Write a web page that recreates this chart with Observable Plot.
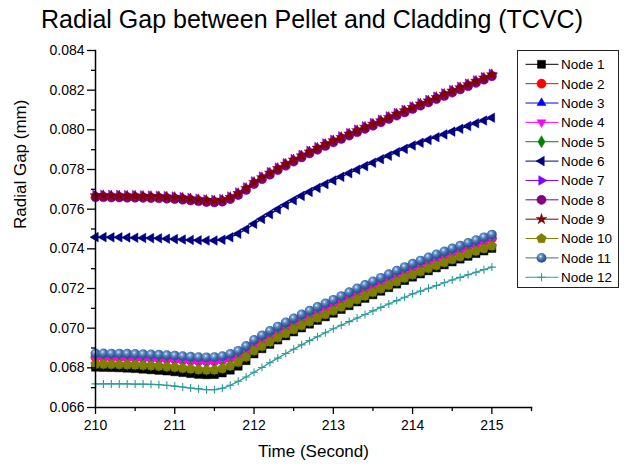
<!DOCTYPE html>
<html>
<head>
<meta charset="utf-8">
<script src="https://cdn.jsdelivr.net/npm/d3@7"></script>
<script src="https://cdn.jsdelivr.net/npm/@observablehq/plot@0.6"></script>
<style>
  body { margin: 0; background: #fff; font-family: "Liberation Sans", Arial, sans-serif; }
  #titulo { width: 624px; height: 38px; line-height: 38px; text-align: center; font-size: 25px; color: #000; }
</style>
</head>
<body>
<div id="titulo">Radial Gap between Pellet and Cladding (TCVC)</div>
<div id="chart"></div>
<script>
/* Datos (mm), un punto cada 0.1 s */
const tiempo = [210.0,210.1,210.2,210.3,210.4,210.5,210.6,210.7,210.8,210.9,211.0,
  211.1,211.2,211.3,211.4,211.5,211.6,211.7,211.8,211.9,212.0,
  212.1,212.2,212.3,212.4,212.5,212.6,212.7,212.8,212.9,213.0,
  213.1,213.2,213.3,213.4,213.5,213.6,213.7,213.8,213.9,214.0,
  214.1,214.2,214.3,214.4,214.5,214.6,214.7,214.8,214.9,215.0]

const node1 = [0.06803,0.06802,0.06801,0.06800,0.06798,0.06796,0.06793,0.06790,0.06787,0.06784,0.06780,
  0.06776,0.06771,0.06767,0.06765,0.06766,0.06774,0.06788,0.06808,0.06836,0.06870,
  0.06896,0.06918,0.06940,0.06961,0.06981,0.07001,0.07020,0.07039,0.07057,0.07075,
  0.07094,0.07113,0.07132,0.07150,0.07168,0.07186,0.07204,0.07222,0.07240,0.07257,
  0.07273,0.07289,0.07304,0.07319,0.07334,0.07348,0.07362,0.07376,0.07389,0.07402]
const node2 = [0.06853,0.06853,0.06852,0.06852,0.06851,0.06850,0.06849,0.06848,0.06846,0.06844,0.06842,
  0.06839,0.06836,0.06834,0.06833,0.06834,0.06839,0.06850,0.06866,0.06890,0.06921,
  0.06944,0.06966,0.06988,0.07009,0.07029,0.07049,0.07068,0.07087,0.07105,0.07123,
  0.07142,0.07161,0.07180,0.07198,0.07216,0.07234,0.07252,0.07270,0.07288,0.07305,
  0.07321,0.07337,0.07352,0.07367,0.07382,0.07396,0.07410,0.07424,0.07438,0.07452]
const node3 = [0.06865,0.06865,0.06864,0.06864,0.06863,0.06862,0.06861,0.06860,0.06858,0.06856,0.06854,
  0.06851,0.06848,0.06846,0.06845,0.06846,0.06851,0.06862,0.06878,0.06902,0.06933,
  0.06956,0.06978,0.07000,0.07021,0.07041,0.07061,0.07080,0.07099,0.07117,0.07135,
  0.07154,0.07173,0.07192,0.07210,0.07228,0.07246,0.07264,0.07282,0.07300,0.07317,
  0.07333,0.07349,0.07364,0.07379,0.07394,0.07408,0.07422,0.07436,0.07450,0.07464]
const node4 = [0.06843,0.06843,0.06842,0.06842,0.06841,0.06840,0.06839,0.06838,0.06836,0.06834,0.06832,
  0.06829,0.06826,0.06824,0.06823,0.06824,0.06829,0.06840,0.06856,0.06880,0.06911,
  0.06934,0.06956,0.06978,0.06999,0.07019,0.07039,0.07058,0.07077,0.07095,0.07113,
  0.07132,0.07151,0.07170,0.07188,0.07206,0.07224,0.07242,0.07260,0.07278,0.07295,
  0.07311,0.07327,0.07342,0.07357,0.07372,0.07386,0.07400,0.07414,0.07428,0.07442]
const node5 = [0.06822,0.06822,0.06821,0.06820,0.06819,0.06818,0.06816,0.06814,0.06812,0.06809,0.06806,
  0.06802,0.06798,0.06794,0.06792,0.06793,0.06800,0.06813,0.06832,0.06858,0.06889,
  0.06912,0.06934,0.06956,0.06977,0.06997,0.07017,0.07036,0.07055,0.07073,0.07091,
  0.07110,0.07129,0.07148,0.07166,0.07184,0.07202,0.07220,0.07238,0.07256,0.07273,
  0.07289,0.07305,0.07320,0.07335,0.07350,0.07364,0.07378,0.07392,0.07405,0.07418]
const node6 = [0.07459,0.07459,0.07458,0.07458,0.07457,0.07456,0.07455,0.07454,0.07453,0.07451,0.07449,
  0.07447,0.07445,0.07443,0.07442,0.07442,0.07446,0.07458,0.07476,0.07499,0.07526,
  0.07551,0.07575,0.07599,0.07622,0.07645,0.07667,0.07687,0.07707,0.07726,0.07745,
  0.07763,0.07781,0.07799,0.07817,0.07834,0.07852,0.07869,0.07887,0.07904,0.07921,
  0.07935,0.07949,0.07963,0.07977,0.07991,0.08005,0.08019,0.08033,0.08047,0.08061]
const node7 = [0.07673,0.07673,0.07672,0.07672,0.07671,0.07671,0.07670,0.07669,0.07668,0.07666,0.07664,
  0.07661,0.07657,0.07653,0.07649,0.07647,0.07651,0.07664,0.07684,0.07710,0.07740,
  0.07764,0.07787,0.07810,0.07832,0.07853,0.07874,0.07894,0.07913,0.07932,0.07950,
  0.07967,0.07984,0.08001,0.08018,0.08034,0.08051,0.08068,0.08085,0.08101,0.08118,
  0.08135,0.08151,0.08168,0.08184,0.08201,0.08217,0.08233,0.08250,0.08266,0.08283]
const node8 = [0.07660,0.07660,0.07659,0.07659,0.07658,0.07658,0.07657,0.07656,0.07655,0.07653,0.07651,
  0.07648,0.07644,0.07640,0.07636,0.07634,0.07638,0.07651,0.07671,0.07697,0.07727,
  0.07751,0.07774,0.07797,0.07819,0.07840,0.07861,0.07881,0.07900,0.07919,0.07937,
  0.07954,0.07971,0.07988,0.08005,0.08021,0.08038,0.08055,0.08072,0.08088,0.08105,
  0.08122,0.08138,0.08155,0.08171,0.08188,0.08204,0.08220,0.08237,0.08253,0.08270]
const node9 = [0.07669,0.07669,0.07668,0.07668,0.07667,0.07667,0.07666,0.07665,0.07664,0.07662,0.07660,
  0.07657,0.07653,0.07649,0.07645,0.07643,0.07647,0.07660,0.07680,0.07706,0.07736,
  0.07760,0.07783,0.07806,0.07828,0.07849,0.07870,0.07890,0.07909,0.07928,0.07946,
  0.07963,0.07980,0.07997,0.08014,0.08030,0.08047,0.08064,0.08081,0.08097,0.08114,
  0.08131,0.08147,0.08164,0.08180,0.08197,0.08213,0.08229,0.08246,0.08262,0.08279]
const node10 = [0.06819,0.06819,0.06818,0.06817,0.06816,0.06815,0.06813,0.06811,0.06809,0.06806,0.06803,
  0.06799,0.06795,0.06791,0.06789,0.06790,0.06797,0.06810,0.06829,0.06855,0.06886,
  0.06909,0.06931,0.06953,0.06974,0.06994,0.07014,0.07033,0.07052,0.07070,0.07088,
  0.07107,0.07126,0.07145,0.07163,0.07181,0.07199,0.07217,0.07235,0.07253,0.07270,
  0.07286,0.07302,0.07317,0.07332,0.07347,0.07361,0.07375,0.07389,0.07402,0.07415]
const node11 = [0.06873,0.06873,0.06872,0.06872,0.06871,0.06870,0.06869,0.06868,0.06866,0.06864,0.06862,
  0.06859,0.06856,0.06854,0.06853,0.06854,0.06859,0.06870,0.06886,0.06910,0.06941,
  0.06964,0.06986,0.07008,0.07029,0.07049,0.07069,0.07088,0.07107,0.07125,0.07143,
  0.07162,0.07181,0.07200,0.07218,0.07236,0.07254,0.07272,0.07290,0.07308,0.07325,
  0.07341,0.07357,0.07372,0.07387,0.07402,0.07416,0.07430,0.07444,0.07458,0.07472]
const node12 = [0.06719,0.06719,0.06719,0.06719,0.06719,0.06718,0.06718,0.06717,0.06715,0.06712,0.06708,
  0.06703,0.06698,0.06694,0.06690,0.06690,0.06697,0.06712,0.06732,0.06754,0.06778,
  0.06802,0.06826,0.06849,0.06872,0.06894,0.06916,0.06937,0.06957,0.06977,0.06997,
  0.07015,0.07033,0.07051,0.07069,0.07087,0.07105,0.07122,0.07139,0.07156,0.07173,
  0.07187,0.07201,0.07215,0.07229,0.07243,0.07256,0.07269,0.07282,0.07295,0.07308]

const nombres = ['Node 1','Node 2','Node 3','Node 4','Node 5','Node 6',
  'Node 7','Node 8','Node 9','Node 10','Node 11','Node 12']
const colores = ['#000000','#ff0000','#0000ff','#ff00ff','#008000','#000080',
  '#8000ff','#800080','#800000','#808000','#3a6aa6','#2b9b9b']

const xTicks = [210, 211, 212, 213, 214, 215]
const xMenores = [210.5, 211.5, 212.5, 213.5, 214.5, 215.5]
const yTicks = [0.066, 0.068, 0.070, 0.072, 0.074, 0.076, 0.078, 0.080, 0.082, 0.084]
const yMenores = [0.067, 0.069, 0.071, 0.073, 0.075, 0.077, 0.079, 0.081, 0.083]

const series = [node1, node2, node3, node4, node5, node6, node7, node8, node9, node10, node11, node12]

/* Simbolos que Plot no trae (triangulos girados, pentagono) */
const tri = (ang) => ({
  draw(ctx, s) {
    const r = Math.sqrt(s / Math.PI) * 1.2
    for (let k = 0; k < 3; k++) {
      const a = ang + k * 2 * Math.PI / 3
      k ? ctx.lineTo(r * Math.cos(a), r * Math.sin(a)) : ctx.moveTo(r * Math.cos(a), r * Math.sin(a))
    }
    ctx.closePath()
  }
})
const pentagono = {
  draw(ctx, s) {
    const r = Math.sqrt(s / Math.PI) * 1.1
    for (let k = 0; k < 5; k++) {
      const a = -Math.PI / 2 + k * 2 * Math.PI / 5
      k ? ctx.lineTo(r * Math.cos(a), r * Math.sin(a)) : ctx.moveTo(r * Math.cos(a), r * Math.sin(a))
    }
    ctx.closePath()
  }
}
const simbolos = [d3.symbolSquare, d3.symbolCircle, tri(-Math.PI / 2), tri(Math.PI / 2), d3.symbolDiamond,
  tri(Math.PI), tri(0), d3.symbolCircle, d3.symbolStar, pentagono, d3.symbolCircle, d3.symbolPlus]
const radios = [4.5, 4.6, 4.3, 4.3, 3.7, 4.6, 4.6, 4.6, 3.4, 4.6, 4.9, 2.7]
const rellenos = colores.map((c, i) => i === 10 ? 'url(#bola)' : i === 11 ? 'none' : c)

const filas = series.map(vals => vals.map((v, j) => ({ t: tiempo[j], v })))

const marcas = []
filas.forEach((f, i) => {
  marcas.push(Plot.line(f, { x: 't', y: 'v', stroke: colores[i], strokeWidth: 1.3 }))
  marcas.push(Plot.dot(f, {
    x: 't', y: 'v', symbol: simbolos[i], r: radios[i],
    fill: rellenos[i], stroke: i === 10 ? 'none' : colores[i], strokeWidth: i === 11 ? 1.1 : 0.5,
  }))
})

const chart = Plot.plot({
  width: 624,
  height: 432,
  marginLeft: 95,
  marginRight: 93,
  marginTop: 12,
  marginBottom: 63,
  style: { fontFamily: '"Liberation Sans", Arial, sans-serif', background: 'white', color: '#000' },
  x: { domain: [210, 215.5] },
  y: { domain: [0.066, 0.084] },
  marks: [
    ...marcas,
    Plot.frame({ anchor: 'left', strokeWidth: 1.5 }),
    Plot.frame({ anchor: 'bottom', strokeWidth: 1.5 }),
    Plot.axisX(xTicks, { tickSize: 7, tickPadding: 6, fontSize: 14, strokeWidth: 1.3, label: null }),
    Plot.axisX(xMenores, { tickSize: 4, text: null, strokeWidth: 1.3, label: null }),
    Plot.axisY(yTicks, { tickSize: 8, tickPadding: 3, fontSize: 14, strokeWidth: 1.3, tickFormat: d3.format('.3f'), label: null }),
    Plot.axisY(yMenores, { tickSize: 4, text: null, strokeWidth: 1.3, label: null }),
    Plot.text(['Time (Second)'], { frameAnchor: 'bottom', dy: 49, fontSize: 17 }),
    Plot.text(['Radial Gap (mm)'], { frameAnchor: 'left', rotate: -90, dx: -75, fontSize: 17 }),
  ],
})

/* gradiente para las bolitas del Node 11 */
const svg = d3.select(chart)
const grad = svg.append('defs').append('radialGradient')
  .attr('id', 'bola').attr('cx', '40%').attr('cy', '35%').attr('r', '60%')
grad.append('stop').attr('offset', '0%').attr('stop-color', '#eef4ff')
grad.append('stop').attr('offset', '22%').attr('stop-color', '#7ea4d4')
grad.append('stop').attr('offset', '60%').attr('stop-color', '#3d6ca8')
grad.append('stop').attr('offset', '100%').attr('stop-color', '#28528c')

/* Leyenda */
const ley = svg.append('g').attr('transform', 'translate(517.5,12.5)')
ley.append('rect').attr('width', 101).attr('height', 237)
  .attr('fill', 'white').attr('stroke', '#222').attr('stroke-width', 1)
nombres.forEach((n, i) => {
  const y = 13.8 + i * 19.36
  const fila = ley.append('g').attr('transform', `translate(0,${y})`)
  fila.append('line').attr('x1', 8).attr('x2', 41).attr('stroke', colores[i]).attr('stroke-width', 1)
  fila.append('path')
    .attr('transform', 'translate(24,0)')
    .attr('d', d3.symbol(simbolos[i], Math.PI * radios[i] * radios[i])())
    .attr('fill', rellenos[i]).attr('stroke', i === 10 ? 'none' : colores[i])
    .attr('stroke-width', i === 11 ? 1.1 : 0.5)
  fila.append('text').attr('x', 43.5).attr('dy', '0.36em').attr('text-anchor', 'start')
    .attr('font-size', 13.5).attr('fill', '#000').text(n)
})

d3.select('#chart').append(() => chart)
</script>
</body>
</html>
